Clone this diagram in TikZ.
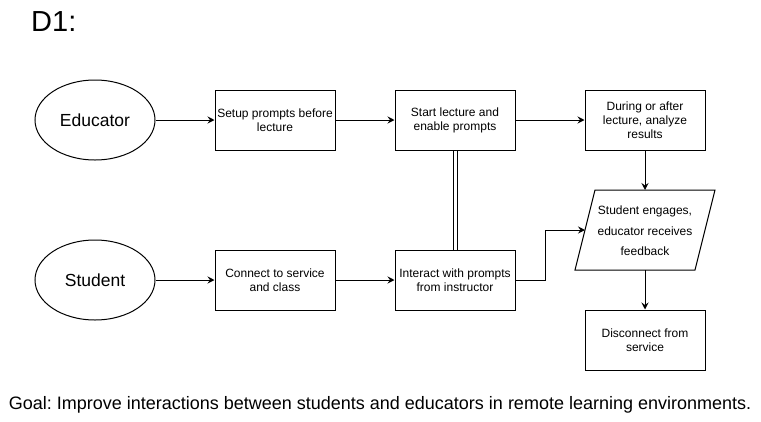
\documentclass[tikz,border=0pt]{standalone}
\usepackage{fontspec}
\setmainfont{Liberation Sans}
\usetikzlibrary{arrows.meta,shapes.geometric}
\frenchspacing
\begin{document}
\begin{tikzpicture}[x=1pt,y=-1pt,
  box/.style={draw,line width=1pt,minimum width=120pt,minimum height=60pt,align=center,inner sep=1pt,font=\fontsize{12}{14}\selectfont},
  ell/.style={draw,ellipse,line width=1pt,minimum width=120pt,minimum height=80pt,inner sep=0pt,font=\fontsize{17.5}{20}\selectfont},
  arr/.style={-{Stealth[length=7pt,width=7pt,inset=2.5pt]},line width=1pt},
  link/.style={line width=1pt}]
\useasboundingbox (0,0) rectangle (761,421);
\node[anchor=west,inner sep=0pt,font=\fontsize{29}{32}\selectfont] (title) at (31,22) {D1:};
\node[ell] (edu) at (95,120) {Educator};
\node[ell] (stu) at (95,280) {Student};
\node[box] (setup) at (275,120) {Setup prompts before\\lecture};
\node[box] (start) at (455,120) {Start lecture and\\enable prompts};
\node[box] (during) at (645,120) {During or after\\lecture, analyze\\results};
\node[box] (conn) at (275,280) {Connect to service\\and class};
\node[box] (inter) at (455,280) {Interact with prompts\\from instructor};
\node[box] (disc) at (645,340) {Disconnect from\\service};
\draw[link] (595,190) -- (715,190) -- (695,270) -- (575,270) -- cycle;
\node[align=center,inner sep=0pt,font=\fontsize{12}{20.5}\selectfont] (pg) at (645,231) {Student engages,\\educator receives\\feedback};
\coordinate (pgtop) at (645,190);
\coordinate (pgbot) at (645,270);
\coordinate (pgleft) at (585,230);
\draw[arr] (edu) -- (setup);
\draw[arr] (setup) -- (start);
\draw[arr] (start) -- (during);
\draw[arr] (during) -- (pgtop);
\draw[arr] (pgbot) -- (disc);
\draw[arr] (stu) -- (conn);
\draw[arr] (conn) -- (inter);
\draw[arr] (inter.east) -- ++(30,0) |- (pgleft);
\draw[link,double,double distance=3pt] (start.south) -- (inter.north);
\node[inner sep=0pt,font=\fontsize{18}{20}\selectfont] (goal) at (380,405) {Goal: Improve interactions between students and educators in remote learning environments.};
\end{tikzpicture}
\end{document}
